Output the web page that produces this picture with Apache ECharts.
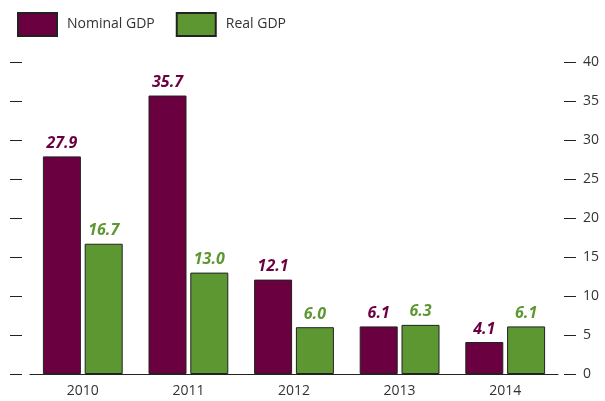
<!DOCTYPE html>
<html>
<head>
<meta charset="utf-8">
<script src="https://cdn.jsdelivr.net/npm/echarts@6/dist/echarts.min.js"></script>
<style>
  html, body { margin: 0; padding: 0; background: #fff; }
  #chart { width: 605px; height: 401px; }
</style>
</head>
<body>
<div id="chart"></div>
<script>
// GDP growth by year, per cent
const years = ['2010', '2011', '2012', '2013', '2014'];
const nominalGdp = [27.9, 35.7, 12.1, 6.1, 4.1];
const realGdp = [16.7, 13.0, 6.0, 6.3, 6.1];
const yTicks = [0, 5, 10, 15, 20, 25, 30, 35, 40];

const MAROON = '#6b0040';
const GREEN = '#5d9732';
const FONT = '"Open Sans", "Noto Sans", sans-serif';

const chart = echarts.init(document.getElementById('chart'));

function valueLabel(color) {
  return {
    show: true,
    position: 'top',
    distance: 5,
    color: color,
    fontFamily: FONT,
    fontSize: 16,
    fontWeight: 'bold',
    fontStyle: 'italic',
    formatter: p => p.value.toFixed(1)
  };
}

chart.setOption({
  animation: false,
  textStyle: { fontFamily: FONT },
  legend: {
    left: 17,
    top: 12,
    padding: 0,
    itemWidth: 39,
    itemHeight: 23,
    itemGap: 21,
    icon: 'rect',
    textStyle: { fontSize: 14, color: '#333', fontFamily: FONT, padding: [0, 0, 0, 5] },
    data: ['Nominal GDP', 'Real GDP']
  },
  grid: { left: 30, right: 47, top: 62, bottom: 27 },
  xAxis: {
    type: 'category',
    data: years,
    axisLine: { lineStyle: { color: '#222', width: 1.2 } },
    axisTick: { inside: true, length: 6, lineStyle: { color: '#444' } },
    axisLabel: { color: '#333', fontSize: 14, margin: 10, fontFamily: FONT }
  },
  yAxis: [
    {
      type: 'value',
      position: 'right',
      offset: 6,
      min: yTicks[0],
      max: yTicks[yTicks.length - 1],
      interval: yTicks[1] - yTicks[0],
      axisLine: { show: false },
      axisTick: { show: true, length: 12, lineStyle: { color: '#222' } },
      axisLabel: { color: '#333', fontSize: 14, margin: 19, fontFamily: FONT },
      splitLine: { show: false }
    },
    {
      type: 'value',
      position: 'left',
      offset: 8,
      min: yTicks[0],
      max: yTicks[yTicks.length - 1],
      interval: yTicks[1] - yTicks[0],
      axisLine: { show: false },
      axisTick: { show: true, length: 12, lineStyle: { color: '#222' } },
      axisLabel: { show: false },
      splitLine: { show: false }
    }
  ],
  series: [
    {
      name: 'Nominal GDP',
      type: 'bar',
      data: nominalGdp,
      barWidth: 38,
      barGap: '10%',
      itemStyle: { color: MAROON, borderColor: '#222', borderWidth: 1 },
      label: valueLabel(MAROON)
    },
    {
      name: 'Real GDP',
      type: 'bar',
      data: realGdp,
      barWidth: 38,
      itemStyle: { color: GREEN, borderColor: '#222', borderWidth: 1 },
      label: valueLabel(GREEN)
    }
  ]
});
</script>
</body>
</html>
